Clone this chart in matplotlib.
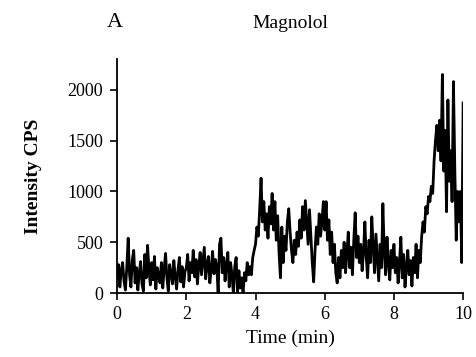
import numpy as np
import matplotlib.pyplot as plt

# Magnolol trace, one reading every 0.04 min
time_step = 0.04
intensity_0_1 = [150, 280, 60, 230, 300, 120, 30, 250, 540, 180, 60, 330, 420,
                 100, 250, 30, 200, 310, 90, 20, 380, 150, 470, 240, 80]
intensity_1_2 = [300, 130, 360, 40, 250, 180, 100, 300, 50, 240, 390, 150, 20,
                 280, 200, 90, 320, 160, 40, 230, 350, 110, 260, 60, 210]
intensity_2_3 = [250, 380, 120, 300, 200, 420, 160, 330, 90, 270, 400, 180, 310,
                 450, 140, 280, 360, 100, 240, 410, 190, 330, 260, 0, 480]
intensity_3_4 = [540, 200, 350, 120, 280, 400, 60, 300, 180, 0, 260, 350, 0,
                 220, 50, 150, 0, 200, 120, 300, 180, 260, 180, 350, 420]
intensity_4_5 = [480, 650, 560, 820, 1130, 700, 900, 620, 780, 540, 850, 680, 980,
                 620, 900, 520, 760, 400, 150, 650, 300, 560, 420, 700, 830]
intensity_5_6 = [600, 420, 300, 520, 380, 600, 460, 720, 540, 850, 620, 910, 700,
                 480, 820, 560, 300, 110, 420, 650, 480, 780, 560, 700, 900]
intensity_6_7 = [620, 900, 520, 720, 380, 600, 300, 480, 200, 100, 350, 150, 420,
                 250, 500, 200, 380, 600, 250, 450, 180, 520, 790, 350, 560]
intensity_7_8 = [300, 480, 220, 400, 700, 350, 150, 520, 300, 750, 450, 200, 580,
                 350, 120, 480, 250, 880, 400, 180, 550, 300, 130, 420, 250]
intensity_8_9 = [480, 200, 350, 100, 300, 550, 150, 380, 60, 250, 420, 180, 320,
                 70, 350, 200, 480, 150, 420, 300, 550, 700, 600, 850, 780]
intensity_9_10 = [950, 900, 1050, 980, 1300, 1500, 1650, 1400, 1700, 1300, 2150,
                  1200, 1600, 800, 1900, 1100, 1400, 900, 2080, 1200, 520, 1000,
                  700, 1000, 300, 1870]

intensity = (intensity_0_1 + intensity_1_2 + intensity_2_3 + intensity_3_4
             + intensity_4_5 + intensity_5_6 + intensity_6_7 + intensity_7_8
             + intensity_8_9 + intensity_9_10)
time_min = np.arange(len(intensity)) * time_step

plt.rcParams['font.family'] = ['Liberation Serif', 'DejaVu Serif']

fig = plt.figure(figsize=(4.76, 3.57), dpi=100)
ax = fig.add_axes([0.246, 0.179, 0.727, 0.655])

ax.plot(time_min, intensity, color='black', linewidth=2.0)

ax.set_xlim(0, 10)
ax.set_ylim(0, 2300)
ax.set_xticks([0, 2, 4, 6, 8, 10])
ax.set_yticks([0, 500, 1000, 1500, 2000])
ax.tick_params(direction='out', length=5, width=1.2, labelsize=13)
ax.tick_params(axis='x', pad=4)
ax.tick_params(axis='y', pad=5)
for side in ['top', 'right']:
    ax.spines[side].set_visible(False)
for side in ['left', 'bottom']:
    ax.spines[side].set_linewidth(1.3)

ax.set_xlabel('Time (min)', fontsize=14, labelpad=5)
ax.set_ylabel('Intensity CPS', fontsize=14, fontweight='bold', labelpad=18)

fig.text(0.609, 0.935, 'Magnolol', ha='center', va='center', fontsize=14)
fig.text(0.242, 0.937, 'A', ha='center', va='center', fontsize=16)

fig.savefig('out.png', dpi=100)
